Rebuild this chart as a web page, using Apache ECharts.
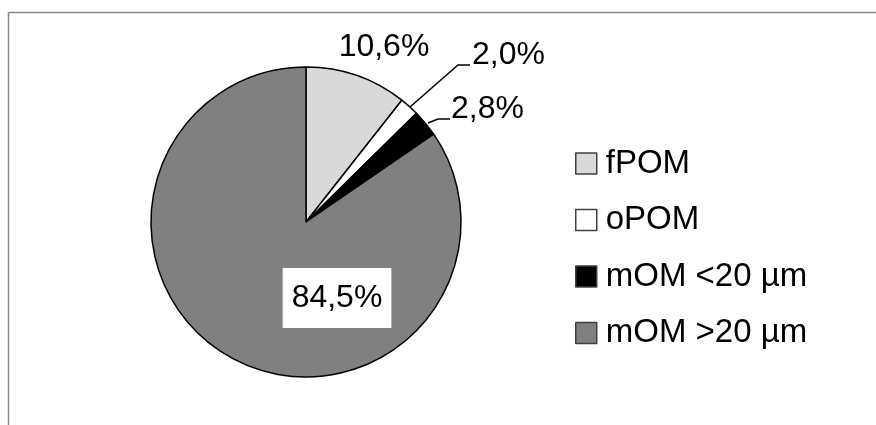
<!DOCTYPE html>
<html>
<head>
<meta charset="utf-8">
<script src="https://cdn.jsdelivr.net/npm/echarts@6/dist/echarts.min.js"></script>
<style>
html,body{margin:0;padding:0;background:#fff;}
#c{width:876px;height:425px;}
</style>
</head>
<body>
<div id="c"></div>
<script>
var categories = ['fPOM', 'oPOM', 'mOM <20 µm', 'mOM >20 µm'];
var values = [10.6, 2.0, 2.8, 84.5];
var colors = ['#d9d9d9', '#ffffff', '#000000', '#808080'];

var FONT = '"Liberation Sans", Arial, sans-serif';

var labelPos = [
  {x: 384, y: 47, align: 'center'},
  {x: 472, y: 55, align: 'left', line: [[410, 107], [458, 65], [470, 65]]},
  {x: 451, y: 109, align: 'left', line: [[428, 123], [438, 119], [450, 119]]},
  {x: 337, y: 298, align: 'center'}
];

var chart = echarts.init(document.getElementById('c'), null, {renderer: 'canvas'});
var data = categories.map(function (c, i) {
  var d = {name: c, value: values[i], itemStyle: {color: colors[i]}};
  if (i === 3) {
    d.label = {backgroundColor: '#ffffff', padding: [14, 9, 14, 9]};
  }
  d.labelLine = {show: i === 1 || i === 2};
  return d;
});

chart.setOption({
  animation: false,
  backgroundColor: '#ffffff',
  graphic: [
    {type: 'line', shape: {x1: 8.5, y1: 12.5, x2: 876, y2: 12.5}, style: {stroke: '#878787', lineWidth: 1.5}},
    {type: 'line', shape: {x1: 8.5, y1: 12.5, x2: 8.5, y2: 425}, style: {stroke: '#878787', lineWidth: 1.5}}
  ],
  legend: {
    orient: 'vertical',
    left: 570,
    top: 142,
    itemWidth: 21,
    itemHeight: 21,
    itemGap: 23.5,
    icon: 'rect',
    itemStyle: {borderColor: '#404040', borderWidth: 1.5},
    textStyle: {fontFamily: FONT, fontSize: 33, color: '#000', padding: [0, 0, 0, 4]},
    data: categories
  },
  series: [{
    type: 'pie',
    center: [306, 222],
    radius: 155,
    startAngle: 90,
    clockwise: true,
    avoidLabelOverlap: false,
    data: data,
    itemStyle: {borderColor: '#000', borderWidth: 1.5},
    emphasis: {disabled: true},
    label: {
      show: true,
      position: 'outside',
      fontFamily: FONT,
      fontSize: 32,
      color: '#000',
      formatter: function (p) {
        return p.value.toFixed(1).replace('.', ',') + '%';
      }
    },
    labelLine: {lineStyle: {color: '#000', width: 1.5}, length: 10, length2: 10},
    labelLayout: function (p) {
      var lp = labelPos[p.dataIndex];
      var r = {x: lp.x, y: lp.y, align: lp.align, verticalAlign: 'middle'};
      if (lp.line) r.labelLinePoints = lp.line;
      return r;
    }
  }]
});
</script>
</body>
</html>
